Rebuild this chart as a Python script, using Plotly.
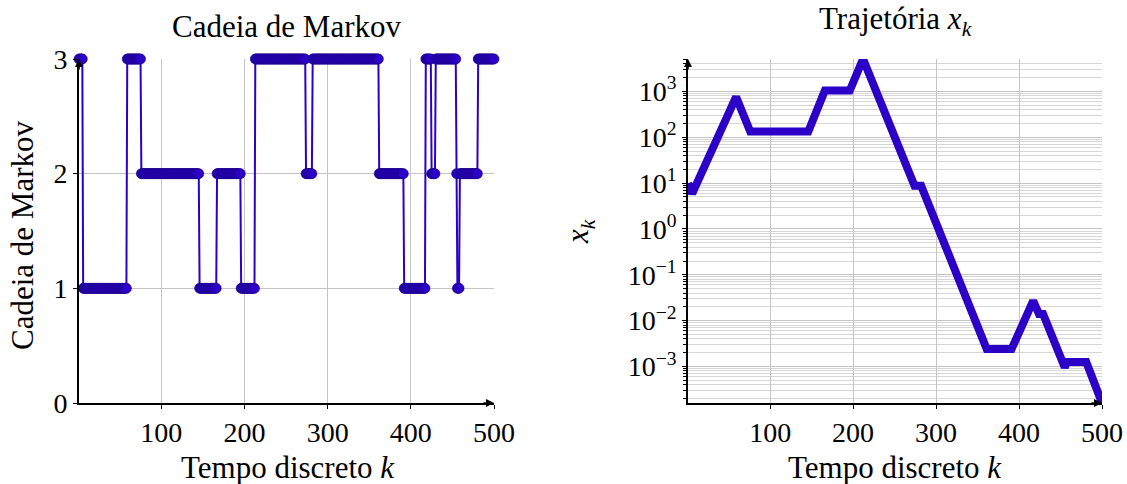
import numpy as np
import plotly.graph_objects as go

# Markov chain: state of each run and its length (k = 1..500)
chain_states = [3, 1, 3, 2, 1, 2, 1, 3, 2, 3, 2, 1, 3, 2, 3, 2, 1, 2, 3]
run_lengths = [5, 53, 17, 70, 21, 29, 17, 61, 8, 80, 30, 26, 7, 5, 25, 1, 3, 22, 20]

# Trajectory x_k: corner points of the piecewise-exponential path
traj_k = [1, 6, 59, 76, 146, 166, 196, 212, 274, 282, 361, 391, 417, 424, 429,
          455, 458, 481, 500]
traj_x = [10.0, 5.9, 760.0, 133.0, 133.0, 1050.0, 1050.0, 5100.0, 8.8, 8.8,
          0.0024, 0.0024, 0.027, 0.014, 0.014, 0.00096, 0.00125, 0.00125, 0.00016]

x_ticks = [100, 200, 300, 400, 500]
chain_ticks = [0, 1, 2, 3]
log_ticks = [1e-3, 1e-2, 1e-1, 1e0, 1e1, 1e2, 1e3]
log_ticktext = ["10<sup>\u22123</sup>", "10<sup>\u22122</sup>", "10<sup>\u22121</sup>",
                "10<sup>0</sup>", "10<sup>1</sup>", "10<sup>2</sup>", "10<sup>3</sup>"]

W, H = 1127, 484
FONT = "Liberation Serif"
FS = 28        # tick labels
FS_LABEL = 31  # titles and axis labels
BLUE = "rgb(44,0,198)"
DARK = "rgb(28,0,140)"
GRID = "#c4c4c4"
MINOR_GRID = "#d6d6d6"

k = np.arange(1, sum(run_lengths) + 1)
states = np.repeat(chain_states, run_lengths)

fig = go.Figure()
fig.add_trace(go.Scatter(
    x=k, y=states, mode="lines+markers", xaxis="x", yaxis="y",
    line=dict(color=BLUE, width=2),
    marker=dict(color=BLUE, size=10, line=dict(color=DARK, width=0.6)),
    cliponaxis=False, showlegend=False))
fig.add_trace(go.Scatter(
    x=traj_k, y=traj_x, mode="lines", xaxis="x2", yaxis="y2",
    line=dict(color=BLUE, width=8),
    cliponaxis=False, showlegend=False))

def px_x(p):
    return p / W

def px_y(p):
    return (H - p) / H

y_dom = [px_y(403), px_y(59)]

axis_common = dict(
    showline=True, linecolor="black", linewidth=1.6, mirror=False,
    ticks="outside", ticklen=4, tickcolor="black", tickwidth=1,
    tickfont=dict(family=FONT, size=FS, color="black"),
    showgrid=True, gridcolor=GRID, gridwidth=1, zeroline=False)

lo, hi = np.log10(min(traj_x)), np.log10(max(traj_x))
minor_vals = [m * 10.0 ** e for e in range(-4, 4) for m in range(2, 10)
              if lo <= np.log10(m * 10.0 ** e) <= hi]

fig.update_layout(
    width=W, height=H, margin=dict(l=0, r=0, t=0, b=0, autoexpand=False),
    paper_bgcolor="white", plot_bgcolor="white",
    font=dict(family=FONT, size=FS, color="black"),
    xaxis=dict(domain=[px_x(79), px_x(494)], range=[1, 500], tickvals=x_ticks,
               anchor="y", **axis_common),
    yaxis=dict(domain=y_dom, range=[0, 3], tickvals=chain_ticks, anchor="x",
               **axis_common),
    xaxis2=dict(domain=[px_x(688), px_x(1102)], range=[1, 500], tickvals=x_ticks,
                anchor="y2", **axis_common),
    yaxis2=dict(domain=y_dom, type="log", range=[lo, hi], tickvals=log_ticks,
                ticktext=log_ticktext, anchor="x2",
                minor=dict(tickvals=minor_vals, showgrid=True, gridcolor=MINOR_GRID,
                           ticks="outside", ticklen=3, tickcolor="black"),
                **axis_common),
)

def label(text, x, y, angle=0):
    return dict(text=text, x=px_x(x), y=px_y(y), xref="paper", yref="paper",
                xanchor="center", yanchor="middle", showarrow=False,
                textangle=angle, font=dict(size=FS_LABEL))

annotations = [
    label("Cadeia de Markov", 286, 27),
    label("Trajet\u00f3ria <i>x<sub>k</sub></i>", 895, 21),
    label("Tempo discreto <i>k</i>", 288, 467),
    label("Tempo discreto <i>k</i>", 895, 467),
    label("Cadeia de Markov", 22, 236, -90),
    label("<i>x<sub>k</sub></i>", 580, 232, -90),
]
# arrow heads at the ends of the axis lines
for xr, yr, xv, yv, axv, ayv in [
    ("x", "y", 1, 3, 0, 12), ("x", "y", 500, 0, -12, 0),
    ("x2", "y2", 1, hi, 0, 12), ("x2", "y2", 500, lo, -12, 0)]:
    annotations.append(dict(x=xv, y=yv, xref=xr, yref=yr, ax=axv, ay=ayv,
                            text="", showarrow=True, arrowhead=2, arrowsize=1,
                            arrowwidth=1.6, arrowcolor="black"))
fig.update_layout(annotations=annotations)

fig.write_html("out.html")
